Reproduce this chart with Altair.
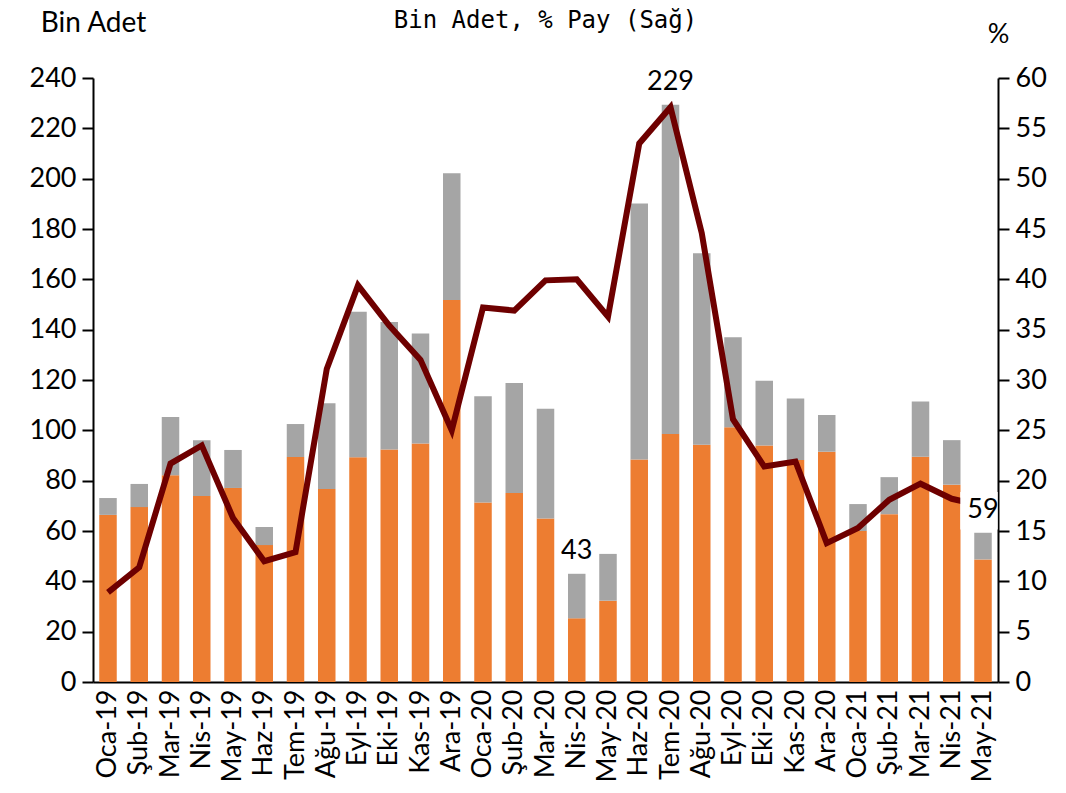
import altair as alt
import pandas as pd

months = ["Oca-19","Şub-19","Mar-19","Nis-19","May-19","Haz-19","Tem-19","Ağu-19","Eyl-19","Eki-19",
          "Kas-19","Ara-19","Oca-20","Şub-20","Mar-20","Nis-20","May-20","Haz-20","Tem-20","Ağu-20",
          "Eyl-20","Eki-20","Kas-20","Ara-20","Oca-21","Şub-21","Mar-21","Nis-21","May-21"]
total = [73.1,78.7,105.3,96.1,92.2,61.6,102.5,110.8,147.1,143.0,138.5,202.2,113.5,118.8,108.6,43.0,
         50.9,190.1,229.4,170.4,137.0,119.7,112.6,106.1,70.7,81.4,111.5,96.1,59.3]
orange = [66.4,69.5,82.2,73.9,77.1,54.4,89.4,76.7,89.3,92.4,94.8,151.8,71.3,75.1,65.0,25.3,32.3,
          88.4,98.5,94.3,101.2,94.0,88.2,91.5,60.0,66.7,89.5,78.4,48.7]
pct = [8.9,11.4,21.7,23.5,16.3,12.0,12.9,31.1,39.4,35.4,32.0,25.0,37.2,36.9,39.9,40.0,36.3,53.5,
       57.1,44.6,26.1,21.4,21.9,13.8,15.3,18.1,19.7,18.2,17.5]
label_months = ["Nis-20", "Tem-20", "May-21"]
left_ticks = list(range(0, 241, 20))
right_ticks = list(range(0, 61, 5))

FONT = "Lato"
FS = 27
ORANGE = "#ED7D31"
GRAY = "#A5A5A5"
LINE = "#6E0000"

rows = []
for m, t, o in zip(months, total, orange):
    rows.append({"ay": m, "seri": "a", "deger": o, "sira": 0})
    rows.append({"ay": m, "seri": "b", "deger": round(t - o, 2), "sira": 1})
bars_df = pd.DataFrame(rows)
line_df = pd.DataFrame({"ay": months, "pay": pct})
lab_df = pd.DataFrame({"ay": months, "toplam": total})
lab_df = lab_df[lab_df["ay"].isin(label_months)].copy()
lab_df["metin"] = lab_df["toplam"].round(0).astype(int).astype(str)

xenc = alt.X("ay:N", sort=months,
             scale=alt.Scale(paddingInner=0.44, paddingOuter=0.2),
             axis=alt.Axis(title=None, labelAngle=-90, ticks=False, labelFontSize=FS,
                           labelFont=FONT, labelColor="black", domainColor="black",
                           domainWidth=2, labelPadding=7, labelAlign="right",
                           labelBaseline="middle"))

yleft = alt.Scale(domain=[0, 240], nice=False, zero=True)
yright = alt.Scale(domain=[0, 60], nice=False, zero=True)

bars = alt.Chart(bars_df).mark_bar().encode(
    x=xenc,
    y=alt.Y("deger:Q", stack="zero", scale=yleft,
            axis=alt.Axis(values=left_ticks, title="Bin Adet", titleAngle=0, titleX=0,
                          titleY=-47, titleAlign="center", titleBaseline="alphabetic",
                          titleFont=FONT, titleFontSize=28, titleFontWeight="normal",
                          titleColor="black", labelFont=FONT, labelFontSize=FS,
                          labelColor="black", tickSize=11, tickWidth=2, tickColor="black",
                          domainColor="black", domainWidth=2, grid=False, labelPadding=6)),
    color=alt.Color("seri:N", scale=alt.Scale(domain=["a", "b"], range=[ORANGE, GRAY]), legend=None),
    order=alt.Order("sira:Q"),
)

line = alt.Chart(line_df).mark_line(color=LINE, strokeWidth=6, strokeJoin="miter").encode(
    x=alt.X("ay:N", sort=months),
    y=alt.Y("pay:Q", scale=yright,
            axis=alt.Axis(orient="right", values=right_ticks, title="%", titleAngle=0,
                          titleX=0, titleY=-36, titleAlign="center",
                          titleBaseline="alphabetic", titleFont=FONT, titleFontSize=FS,
                          titleFontWeight="normal", titleColor="black", labelFont=FONT,
                          labelFontSize=FS, labelColor="black", tickSize=11, tickWidth=2,
                          tickColor="black", domainColor="black", domainWidth=2,
                          grid=False, labelPadding=6)),
)

box = alt.Chart(lab_df[lab_df["ay"] == "May-21"]).mark_point(
    shape="square", filled=True, color="white", opacity=1, size=1400, yOffset=-22, xOffset=-4
).encode(x=alt.X("ay:N", sort=months), y=alt.Y("toplam:Q", scale=yleft, axis=None))

text = alt.Chart(lab_df).mark_text(
    font=FONT, fontSize=FS, color="black", dy=-23, baseline="middle"
).encode(x=alt.X("ay:N", sort=months), y=alt.Y("toplam:Q", scale=yleft, axis=None),
         text="metin:N")

chart = alt.layer(bars, line, box, text).resolve_scale(y="independent").properties(
    width=905, height=604,
    title=alt.TitleParams("Bin Adet, % Pay (Sağ)", font="DejaVu Sans Mono", fontSize=24,
                          fontWeight="normal", color="black", anchor="middle",
                          frame="group", offset=0, dy=24),
    autosize=alt.AutoSizeParams(type="none"),
    padding={"left": 85, "top": 70, "right": 60, "bottom": 103},
).configure_view(stroke=None)

chart.save("out.html", embed_options={"renderer": "svg", "actions": False})
